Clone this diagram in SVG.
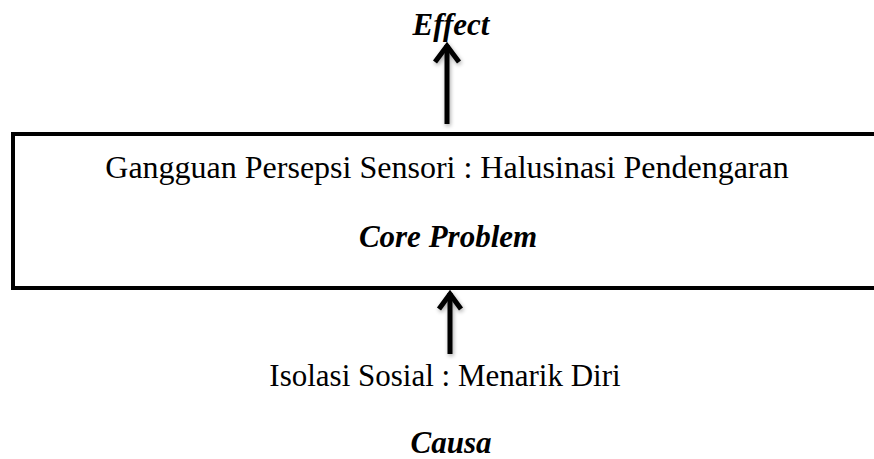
<svg xmlns="http://www.w3.org/2000/svg" width="874" height="459" viewBox="0 0 874 459">
  <defs>
    <style>
      .t { font-family: "Liberation Serif", "Times New Roman", serif; font-size: 31px; fill: #000; text-anchor: middle; }
      .wide { font-size: 32px; }
      .bi { font-weight: bold; font-style: italic; }
      .shaft { stroke: #000; stroke-width: 5; fill: none; }
      .head { stroke: #000; stroke-width: 5; fill: none; stroke-linecap: butt; stroke-linejoin: miter; }
    </style>
    <filter id="shadow" x="-50%" y="-20%" width="200%" height="140%">
      <feGaussianBlur in="SourceAlpha" stdDeviation="2"/>
      <feOffset dx="1" dy="2"/>
      <feComponentTransfer><feFuncA type="linear" slope="0.35"/></feComponentTransfer>
      <feMerge><feMergeNode/><feMergeNode in="SourceGraphic"/></feMerge>
    </filter>
  </defs>
  <rect width="874" height="459" fill="#fff"/>

  <g id="effect">
    <text class="t bi" x="451" y="35">Effect</text>
  </g>

  <g id="core-problem">
    <rect x="13" y="134" width="870" height="154" fill="#fff" stroke="#000" stroke-width="4"/>
    <text class="t wide" x="447" y="178">Gangguan Persepsi Sensori : Halusinasi Pendengaran</text>
    <text class="t bi" x="448" y="247">Core Problem</text>
  </g>

  <g id="causa">
    <text class="t" x="445" y="386">Isolasi Sosial : Menarik Diri</text>
    <text class="t bi" x="451" y="453">Causa</text>
  </g>

  <g id="connectors" filter="url(#shadow)">
    <path class="shaft" d="M447 124 V45"/>
    <path class="head" d="M435 62 L447 46 L459 62"/>
    <path class="shaft" d="M450 354 V293"/>
    <path class="head" d="M439 309 L450 294 L461 309"/>
  </g>
</svg>
